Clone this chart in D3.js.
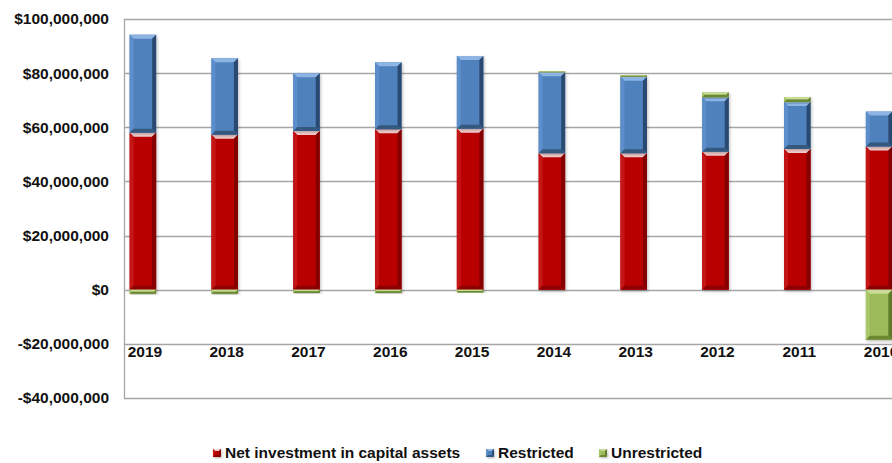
<!DOCTYPE html>
<html><head><meta charset="utf-8">
<script src="https://cdn.jsdelivr.net/npm/d3@7"></script>
<style>
html,body{margin:0;padding:0;background:#fff;}
svg{display:block;font-family:"Liberation Sans",Arial,sans-serif;font-weight:bold;}
</style></head>
<body><svg id="c" width="892" height="463"></svg>
<script>
const years = ["2019","2018","2017","2016","2015","2014","2013","2012","2011","2010"];
const netInvestment = [58.0e6, 57.2e6, 58.6e6, 59.3e6, 59.5e6, 50.4e6, 50.4e6, 51.0e6, 52.0e6, 52.9e6];
const restricted   = [36.2e6, 28.3e6, 21.4e6, 24.7e6, 26.8e6, 29.9e6, 28.3e6, 20.1e6, 17.3e6, 12.9e6];
const unrestricted = [-1.5e6, -1.5e6, -1.2e6, -1.2e6, -1.0e6, 0.4e6, 0.6e6, 1.8e6, 1.9e6, -18.5e6];
const seriesNames = ["Net investment in capital assets","Restricted","Unrestricted"];
const yTicks = [-40e6,-20e6,0,20e6,40e6,60e6,80e6,100e6];

const colors = [
  {base:"#B90000", top:"#F7D0D0", left:"#C41414", right:"#850000", bottom:"#8E0000"},
  {base:"#4F81BD", top:"#8DB4E2", left:"#5C8ECB", right:"#2A4A70", bottom:"#34597F"},
  {base:"#9BBB59", top:"#C8DC98", left:"#A9C76A", right:"#5E7A2A", bottom:"#6C8833"}
];

const svg = d3.select("#c");
const plotL = 124, plotT = 19, plotB = 398, plotR = 900;

const y = d3.scaleLinear().domain([-40e6, 100e6]).range([plotB, plotT]);
const x = d3.scaleBand().domain(years).range([102, 920]).paddingInner(0.676).paddingOuter(0.338);

// gridlines
svg.append("g").selectAll("line").data(yTicks).join("line")
  .attr("x1", plotL).attr("x2", plotR)
  .attr("y1", d => Math.round(y(d)) + 0.5).attr("y2", d => Math.round(y(d)) + 0.5)
  .attr("stroke", "#A6A6A6").attr("stroke-width", 1.3);
svg.append("line").attr("x1", plotL + 0.5).attr("x2", plotL + 0.5)
  .attr("y1", plotT).attr("y2", plotB + 1).attr("stroke", "#A6A6A6").attr("stroke-width", 1.3);

// y axis labels
const fmt = v => (v < 0 ? "-$" : "$") + d3.format(",")(Math.abs(v));
svg.append("g").selectAll("text").data(yTicks).join("text")
  .attr("x", 109).attr("y", d => y(d)).attr("dy", "0.35em")
  .attr("text-anchor", "end").attr("font-size", 15.5).attr("fill", "#111")
  .text(fmt);

// stacked data
const rows = years.map((yr, i) => ({year: yr, a: netInvestment[i], b: restricted[i], c: unrestricted[i]}));
const stack = d3.stack().keys(["a","b","c"]).offset(d3.stackOffsetDiverging);
const layers = stack(rows);

const defs = svg.append("defs");
const f = defs.append("filter").attr("id","sh").attr("x","-30%").attr("y","-10%").attr("width","160%").attr("height","130%");
f.append("feDropShadow").attr("dx",1).attr("dy",1.5).attr("stdDeviation",1.5).attr("flood-color","#000").attr("flood-opacity",0.25);

function bevelBar(g, x0, y0, w, h, c, bmax) {
  if (h <= 0) return;
  const b = Math.min(bmax, h / 2, w / 2);
  const grp = g.append("g").attr("filter","url(#sh)");
  grp.append("rect").attr("x", x0).attr("y", y0).attr("width", w).attr("height", h).attr("fill", c.base);
  const P = pts => pts.map(p => p.join(",")).join(" ");
  grp.append("polygon").attr("points", P([[x0,y0],[x0+w,y0],[x0+w-b,y0+b],[x0+b,y0+b]])).attr("fill", c.top);
  grp.append("polygon").attr("points", P([[x0,y0],[x0+b,y0+b],[x0+b,y0+h-b],[x0,y0+h]])).attr("fill", c.left);
  grp.append("polygon").attr("points", P([[x0+w,y0],[x0+w,y0+h],[x0+w-b,y0+h-b],[x0+w-b,y0+b]])).attr("fill", c.right);
  grp.append("polygon").attr("points", P([[x0,y0+h],[x0+b,y0+h-b],[x0+w-b,y0+h-b],[x0+w,y0+h]])).attr("fill", c.bottom);
}

const barsG = svg.append("g");
layers.forEach((layer, li) => {
  layer.forEach(d => {
    const y1 = y(Math.max(d[0], d[1])), y2 = y(Math.min(d[0], d[1]));
    bevelBar(barsG, x(d.data.year), y1, x.bandwidth(), y2 - y1, colors[li], 4);
  });
});

// category labels
svg.append("g").selectAll("text").data(years).join("text")
  .attr("x", d => x(d) + x.bandwidth() / 2 + 2).attr("y", 352).attr("dy", "0.35em")
  .attr("text-anchor", "middle").attr("font-size", 15.5).attr("fill", "#111")
  .text(d => d);

// legend
const legX = [213, 486, 599];
const lg = svg.append("g");
seriesNames.forEach((n, i) => {
  bevelBar(lg, legX[i], 449, 8, 8, colors[i], 2);
  lg.append("text").attr("x", legX[i] + 12).attr("y", 453).attr("dy", "0.35em")
    .attr("font-size", 15.5).attr("fill", "#111").text(n);
});
</script></body></html>
